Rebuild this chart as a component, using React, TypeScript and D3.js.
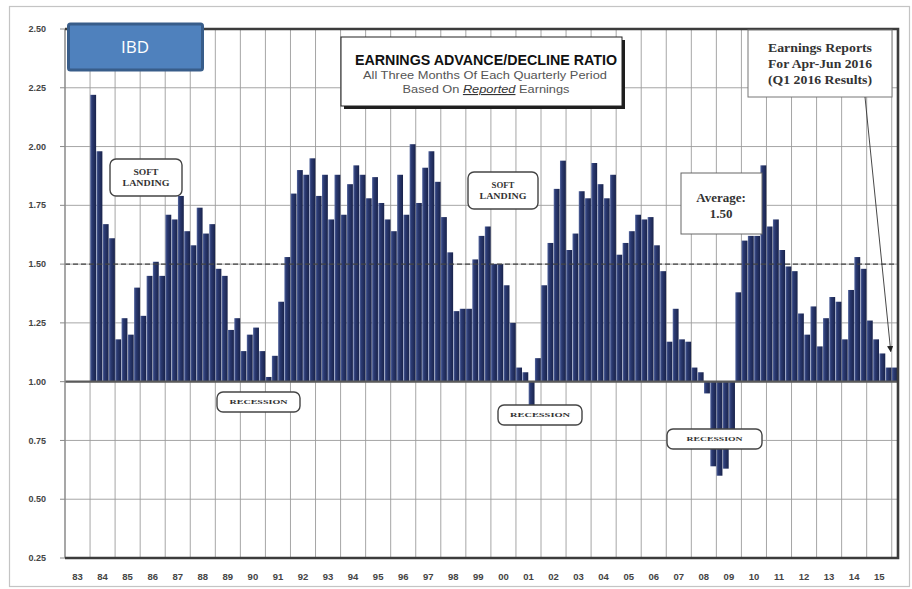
import { useRef, useEffect } from 'react'
import * as d3 from 'd3'

const WIDTH = 912
const HEIGHT = 589
const PLOT = { left: 65, right: 898, top: 29, bottom: 558 }

// year labels on the x axis (83 .. 15), each year holds four quarters
const YEARS = [
  '83', '84', '85', '86', '87', '88', '89', '90', '91', '92', '93', '94', '95', '96', '97', '98', '99',
  '00', '01', '02', '03', '04', '05', '06', '07', '08', '09', '10', '11', '12', '13', '14', '15',
]
const EXTRA_QUARTERS = ['16Q1']
const FIRST_QUARTER = '84Q1'

// quarterly earnings advance/decline ratio, 84Q1 .. 16Q1
const RATIOS = [
  2.22, 1.98, 1.67, 1.61, // 84
  1.18, 1.27, 1.2, 1.4, // 85
  1.28, 1.45, 1.51, 1.45, // 86
  1.71, 1.69, 1.79, 1.64, // 87
  1.58, 1.74, 1.63, 1.67, // 88
  1.48, 1.45, 1.22, 1.27, // 89
  1.13, 1.2, 1.23, 1.13, // 90
  1.02, 1.11, 1.34, 1.53, // 91
  1.8, 1.9, 1.88, 1.95, // 92
  1.79, 1.88, 1.69, 1.88, // 93
  1.71, 1.84, 1.92, 1.88, // 94
  1.78, 1.87, 1.76, 1.69, // 95
  1.64, 1.88, 1.71, 2.01, // 96
  1.76, 1.91, 1.98, 1.85, // 97
  1.7, 1.55, 1.3, 1.31, // 98
  1.31, 1.52, 1.62, 1.66, // 99
  1.5, 1.5, 1.41, 1.25, // 00
  1.06, 1.04, 0.9, 1.1, // 01
  1.41, 1.59, 1.82, 1.94, // 02
  1.56, 1.63, 1.81, 1.78, // 03
  1.93, 1.84, 1.78, 1.88, // 04
  1.54, 1.59, 1.64, 1.71, // 05
  1.69, 1.7, 1.58, 1.47, // 06
  1.17, 1.31, 1.18, 1.17, // 07
  1.06, 1.04, 0.95, 0.64, // 08
  0.6, 0.63, 0.73, 1.38, // 09
  1.6, 1.62, 1.62, 1.92, // 10
  1.66, 1.69, 1.56, 1.49, // 11
  1.47, 1.29, 1.2, 1.32, // 12
  1.15, 1.27, 1.36, 1.34, // 13
  1.18, 1.39, 1.53, 1.48, // 14
  1.26, 1.18, 1.12, 1.06, // 15
  1.06, // 16Q1
]

const Y_TICKS = [0.25, 0.5, 0.75, 1.0, 1.25, 1.5, 1.75, 2.0, 2.25, 2.5]
const BASELINE = 1.0
const AVERAGE = 1.5

const TITLE = 'EARNINGS ADVANCE/DECLINE RATIO'
const SUBTITLE = 'All Three Months Of Each Quarterly Period'
const NOTE_LINES = ['Earnings Reports', 'For  Apr-Jun 2016', '(Q1 2016 Results)']

const SERIF = "'Liberation Serif', 'DejaVu Serif', serif"
const SANS = "'Liberation Sans', Arial, sans-serif"
const NARROW = "'Liberation Sans Narrow', 'Liberation Sans', Arial, sans-serif"

export default function App() {
  const svgRef = useRef<SVGSVGElement>(null)

  useEffect(() => {
    if (!svgRef.current) return
    const el = d3.select(svgRef.current)
    el.selectAll('*').remove()

    const quarters = YEARS.flatMap((y) => [1, 2, 3, 4].map((q) => `${y}Q${q}`)).concat(EXTRA_QUARTERS)
    const start = quarters.indexOf(FIRST_QUARTER)
    const bars = RATIOS.map((v, i) => ({ key: quarters[start + i], v }))

    const x = d3.scaleBand().domain(quarters).range([PLOT.left, PLOT.right]).padding(0)
    const y = d3.scaleLinear().domain([0.25, 2.5]).range([PLOT.bottom, PLOT.top])
    const bw = x.bandwidth()

    const defs = el.append('defs')
    const grad = defs.append('linearGradient').attr('id', 'barGrad').attr('x1', 0).attr('x2', 1).attr('y1', 0).attr('y2', 0)
    grad.append('stop').attr('offset', '0%').attr('stop-color', '#55679f')
    grad.append('stop').attr('offset', '30%').attr('stop-color', '#2b3a72')
    grad.append('stop').attr('offset', '100%').attr('stop-color', '#19234b')
    defs.append('marker')
      .attr('id', 'arrowHead')
      .attr('viewBox', '0 0 10 10')
      .attr('refX', 9).attr('refY', 5)
      .attr('markerWidth', 7).attr('markerHeight', 7)
      .attr('orient', 'auto')
      .append('path').attr('d', 'M0,0 L10,5 L0,10 z').attr('fill', '#222')

    // outer frame
    el.append('rect')
      .attr('x', 9.5).attr('y', 6.5).attr('width', 900).attr('height', 580)
      .attr('fill', '#fff').attr('stroke', '#c4c4c4').attr('stroke-width', 1.2)

    // gridlines
    el.append('g').selectAll('line')
      .data(Y_TICKS)
      .join('line')
      .attr('x1', PLOT.left).attr('x2', PLOT.right)
      .attr('y1', (d) => y(d)).attr('y2', (d) => y(d))
      .attr('stroke', '#9c9c9c').attr('stroke-width', 0.9)

    el.append('g').selectAll('line')
      .data(YEARS.slice(1).map((yr) => `${yr}Q1`).concat(EXTRA_QUARTERS))
      .join('line')
      .attr('x1', (d) => x(d) ?? 0).attr('x2', (d) => x(d) ?? 0)
      .attr('y1', PLOT.top).attr('y2', PLOT.bottom)
      .attr('stroke', '#9c9c9c').attr('stroke-width', 0.9)

    // bars grow up or down from the 1.00 baseline
    el.append('g').selectAll('rect')
      .data(bars)
      .join('rect')
      .attr('x', (d) => (x(d.key) ?? 0) + 0.2)
      .attr('width', bw - 0.4)
      .attr('y', (d) => y(Math.max(d.v, BASELINE)))
      .attr('height', (d) => Math.abs(y(d.v) - y(BASELINE)))
      .attr('fill', 'url(#barGrad)')

    // baseline and average
    el.append('line')
      .attr('x1', PLOT.left).attr('x2', PLOT.right)
      .attr('y1', y(BASELINE)).attr('y2', y(BASELINE))
      .attr('stroke', '#5a5a5a').attr('stroke-width', 2.2)
    el.append('line')
      .attr('x1', PLOT.left).attr('x2', PLOT.right)
      .attr('y1', y(AVERAGE)).attr('y2', y(AVERAGE))
      .attr('stroke', '#444').attr('stroke-width', 1.2).attr('stroke-dasharray', '5,3')

    // plot borders
    el.append('line')
      .attr('x1', PLOT.left).attr('x2', PLOT.left).attr('y1', PLOT.top).attr('y2', PLOT.bottom)
      .attr('stroke', '#8a8a8a').attr('stroke-width', 1.5)
    el.append('path')
      .attr('d', `M${PLOT.left},${PLOT.top}H${PLOT.right}V${PLOT.bottom}H${PLOT.left}`)
      .attr('fill', 'none').attr('stroke', '#3c3c3c').attr('stroke-width', 2.6)

    // y axis
    const yAxis = el.append('g')
    yAxis.selectAll('line')
      .data(Y_TICKS)
      .join('line')
      .attr('x1', PLOT.left - 5).attr('x2', PLOT.left)
      .attr('y1', (d) => y(d)).attr('y2', (d) => y(d))
      .attr('stroke', '#8a8a8a')
    yAxis.selectAll('text')
      .data(Y_TICKS)
      .join('text')
      .attr('x', 46).attr('y', (d) => y(d)).attr('dy', '0.35em')
      .attr('text-anchor', 'end')
      .attr('font-family', SANS).attr('font-size', 9).attr('font-weight', 'bold').attr('fill', '#444')
      .text((d) => d3.format('.2f')(d))

    // x axis year labels
    el.append('g').selectAll('text')
      .data(YEARS)
      .join('text')
      .attr('x', (d) => (x(`${d}Q1`) ?? 0) + bw * 2)
      .attr('y', 580)
      .attr('text-anchor', 'middle')
      .attr('font-family', NARROW).attr('font-size', 9.5).attr('font-weight', 'bold').attr('fill', '#444')
      .text((d) => d)

    // IBD badge
    el.append('rect')
      .attr('x', 68.5).attr('y', 24).attr('width', 134).attr('height', 46).attr('rx', 2)
      .attr('fill', '#4f81bd').attr('stroke', '#385d8a').attr('stroke-width', 3)
    el.append('text')
      .attr('x', 135).attr('y', 53)
      .attr('text-anchor', 'middle')
      .attr('font-family', "'Open Sans', 'Liberation Sans', sans-serif").attr('font-size', 17)
      .attr('fill', '#fff')
      .text('IBD')

    // title box with drop shadow
    el.append('rect').attr('x', 344).attr('y', 40).attr('width', 281).attr('height', 69).attr('fill', '#1e1e1e')
    el.append('rect')
      .attr('x', 341).attr('y', 37).attr('width', 281).attr('height', 69)
      .attr('fill', '#fff').attr('stroke', '#222').attr('stroke-width', 1)
    el.append('text')
      .attr('x', 486).attr('y', 65).attr('text-anchor', 'middle')
      .attr('font-family', NARROW).attr('font-size', 14).attr('font-weight', 'bold').attr('fill', '#111')
      .attr('textLength', 262).attr('lengthAdjust', 'spacingAndGlyphs')
      .text(TITLE)
    el.append('text')
      .attr('x', 485).attr('y', 79).attr('text-anchor', 'middle')
      .attr('font-family', NARROW).attr('font-size', 11).attr('fill', '#555')
      .attr('textLength', 244).attr('lengthAdjust', 'spacingAndGlyphs')
      .text(SUBTITLE)
    const sub2 = el.append('text')
      .attr('x', 486).attr('y', 93).attr('text-anchor', 'middle')
      .attr('font-family', NARROW).attr('font-size', 11).attr('fill', '#555')
      .attr('textLength', 167).attr('lengthAdjust', 'spacingAndGlyphs')
    sub2.append('tspan').text('Based On ')
    sub2.append('tspan').attr('font-style', 'italic').attr('text-decoration', 'underline').attr('fill', '#333').text('Reported')
    sub2.append('tspan').text(' Earnings')

    // note box top right with arrow to the latest bar
    el.append('rect')
      .attr('x', 748).attr('y', 30).attr('width', 144).attr('height', 67)
      .attr('fill', '#fff').attr('stroke', '#777').attr('stroke-width', 1)
    el.append('g').selectAll('text')
      .data(NOTE_LINES)
      .join('text')
      .attr('x', 820).attr('y', (_, i) => 52 + i * 16)
      .attr('text-anchor', 'middle')
      .attr('font-family', SERIF).attr('font-size', 12).attr('font-weight', 'bold').attr('fill', '#333')
      .attr('textLength', 104).attr('lengthAdjust', 'spacingAndGlyphs')
      .text((d) => d)
    const last = bars[bars.length - 1]
    el.append('line')
      .attr('x1', 865).attr('y1', 97)
      .attr('x2', (x(last.key) ?? 0) - 1).attr('y2', y(last.v) - 16)
      .attr('stroke', '#333').attr('stroke-width', 0.9)
      .attr('marker-end', 'url(#arrowHead)')

    // rounded callouts
    const callout = (bx: number, by: number, w: number, h: number, lines: string[], widths: number[], size: number) => {
      el.append('rect')
        .attr('x', bx).attr('y', by).attr('width', w).attr('height', h).attr('rx', 6)
        .attr('fill', '#fff').attr('stroke', '#444').attr('stroke-width', 1.4)
      const step = size + 3
      const y0 = by + h / 2 - ((lines.length - 1) * step) / 2
      lines.forEach((t, i) => {
        el.append('text')
          .attr('x', bx + w / 2).attr('y', y0 + i * step).attr('dy', '0.35em')
          .attr('text-anchor', 'middle')
          .attr('font-family', SERIF).attr('font-size', size).attr('font-weight', 'bold').attr('fill', '#333')
          .attr('textLength', widths[i]).attr('lengthAdjust', 'spacingAndGlyphs')
          .text(t)
      })
    }
    callout(110, 159, 72, 37, ['SOFT', 'LANDING'], [25, 47], 8)
    callout(468, 172, 70, 37, ['SOFT', 'LANDING'], [23, 47], 8)
    callout(217, 392, 83, 20, ['RECESSION'], [58], 7)
    callout(498, 405, 84, 20, ['RECESSION'], [60], 7)
    callout(667, 429, 95, 20, ['RECESSION'], [56], 7)

    // average box
    el.append('rect')
      .attr('x', 681).attr('y', 173).attr('width', 81).attr('height', 61)
      .attr('fill', '#fff').attr('stroke', '#666').attr('stroke-width', 1)
    el.append('text')
      .attr('x', 721).attr('y', 202).attr('text-anchor', 'middle')
      .attr('font-family', SERIF).attr('font-size', 13).attr('font-weight', 'bold').attr('fill', '#333')
      .text('Average:')
    el.append('text')
      .attr('x', 721).attr('y', 218).attr('text-anchor', 'middle')
      .attr('font-family', SERIF).attr('font-size', 13).attr('font-weight', 'bold').attr('fill', '#333')
      .text(d3.format('.2f')(AVERAGE))
  }, [])

  return (
    <svg
      ref={svgRef}
      width={WIDTH}
      height={HEIGHT}
      style={{ position: 'absolute', left: 0, top: 0, background: '#fff', display: 'block' }}
    />
  )
}
